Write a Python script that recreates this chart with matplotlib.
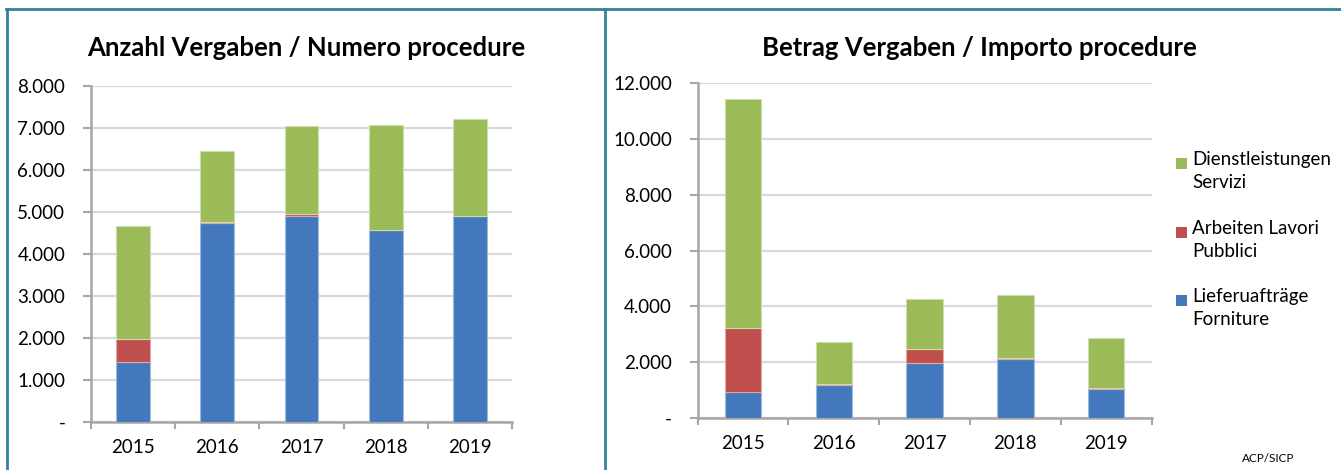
import numpy as np
import matplotlib
matplotlib.use('Agg')
import matplotlib.pyplot as plt
from matplotlib.lines import Line2D
from matplotlib.patches import Rectangle
from matplotlib.ticker import FuncFormatter, MultipleLocator

plt.rcParams['font.family'] = ['Lato', 'DejaVu Sans']

# Data
years = ['2015', '2016', '2017', '2018', '2019']

# Anzahl Vergaben / Numero procedure
n_forniture = [1430, 4730, 4910, 4570, 4900]
n_lavori = [545, 30, 45, 10, 15]
n_servizi = [2690, 1700, 2095, 2490, 2300]

# Betrag Vergaben / Importo procedure
b_forniture = [945, 1170, 1960, 2100, 1030]
b_lavori = [2270, 50, 500, 50, 45]
b_servizi = [8215, 1495, 1800, 2243, 1783]

labels = ['Lieferuafträge\nForniture', 'Arbeiten Lavori\nPubblici',
          'Dienstleistungen\nServizi']
colors = ['#4379BC', '#C0504D', '#9BBB59']
edges = ['#9DB9DE', '#E0A8A6', '#CDDDAC']

axis_col = '#A6A6A6'
grid_col = '#D9D9D9'
frame_col = '#31849B'


def thousands(v, pos):
    if v == 0:
        return '-'
    return '{:,.0f}'.format(v).replace(',', '.')


def stacked(ax, series, ymax, step):
    x = np.arange(len(years))
    bottom = np.zeros(len(years))
    for vals, c, ec in zip(series, colors, edges):
        ax.bar(x, vals, width=0.4, bottom=bottom, color=c, edgecolor=ec,
               linewidth=0.8, zorder=3)
        bottom += np.asarray(vals, dtype=float)
    ax.set_xlim(-0.5, len(years) - 0.5)
    ax.set_ylim(0, ymax)
    ax.yaxis.set_major_locator(MultipleLocator(step))
    ax.yaxis.set_major_formatter(FuncFormatter(thousands))
    ax.set_xticks(x)
    ax.set_xticklabels(years)
    ax.set_xticks(np.arange(-0.5, len(years)), minor=True)
    ax.tick_params(axis='x', which='major', length=0, pad=12, labelsize=13.5)
    ax.tick_params(axis='x', which='minor', length=5, width=1.5,
                   color=axis_col, direction='out')
    ax.tick_params(axis='y', length=5.5, width=1.5, color=axis_col,
                   pad=13, labelsize=13.5)
    for s in ['top', 'right']:
        ax.spines[s].set_visible(False)
    for s in ['left', 'bottom']:
        ax.spines[s].set_color(axis_col)
        ax.spines[s].set_linewidth(1.8)
    ax.yaxis.grid(True, color=grid_col, linewidth=1.6, zorder=0)
    ax.set_axisbelow(True)


fig = plt.figure(figsize=(13.41, 4.70), dpi=100)

ax1 = fig.add_axes([0.0679, 0.1021, 0.3139, 0.715])
stacked(ax1, [n_forniture, n_lavori, n_servizi], 8000, 1000)

ax2 = fig.add_axes([0.5203, 0.1106, 0.3384, 0.7121])
stacked(ax2, [b_forniture, b_lavori, b_servizi], 12000, 2000)

fig.text(0.2286, 0.898, 'Anzahl Vergaben / Numero procedure',
         ha='center', va='center', fontsize=18.5, fontweight='bold')
fig.text(0.730, 0.898, 'Betrag Vergaben / Importo procedure',
         ha='center', va='center', fontsize=18.5, fontweight='bold')

# legend, drawn by hand so the square sits on the first line
leg_y = [163, 232, 300]
for lab, c, y in zip(labels[::-1], colors[::-1], leg_y):
    fy = 1 - y / 470.
    fig.add_artist(Rectangle((1176 / 1341., fy - 5.5 / 470.), 11 / 1341.,
                             11 / 470., transform=fig.transFigure,
                             facecolor=c, edgecolor='none'))
    fig.text(1192 / 1341., fy + 12 / 470., lab, ha='left', va='top',
             fontsize=13.5, linespacing=1.45)

fig.text(1268 / 1341., 1 - 458 / 470., 'ACP/SICP', ha='center', va='center',
         fontsize=8.5)

# panel frame
for xs, ys in [([6, 1341], [9, 9]), ([7, 7], [9, 470]),
               ([605, 605], [9, 470])]:
    fig.add_artist(Line2D([v / 1341. for v in xs], [1 - v / 470. for v in ys],
                          transform=fig.transFigure, color=frame_col,
                          linewidth=2))

fig.savefig('out.png', dpi=100)
